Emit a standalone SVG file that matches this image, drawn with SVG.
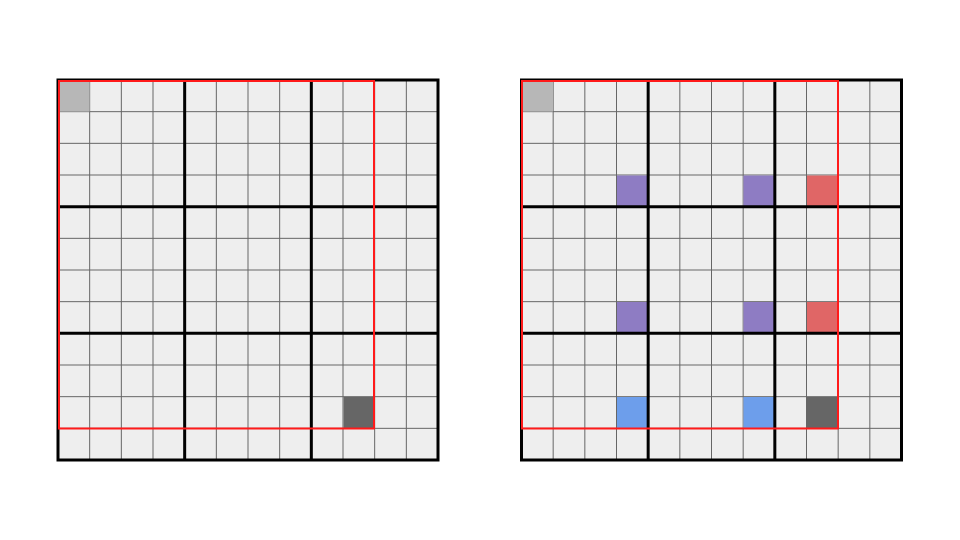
<svg xmlns="http://www.w3.org/2000/svg" width="960" height="540" viewBox="0 0 960 540">
<style>
.bg{fill:#eeeeee}
.thin{stroke:#666666;stroke-width:1;fill:none}
.thick{stroke:#000000;stroke-width:3;fill:none}
.sel{stroke:#ff1a1a;stroke-width:2;fill:none}
.lg{fill:#b7b7b7}
.dk{fill:#666666}
.pu{fill:#8e7cc3}
.rd{fill:#e06666}
.bl{fill:#6d9eeb}
</style>
<defs>
<g id="grid">
<rect class="bg" x="0" y="0" width="380" height="380"/>
<path class="thin" d="M31.67,0V380M63.33,0V380M95,0V380M126.67,0V380M158.33,0V380M190,0V380M221.67,0V380M253.33,0V380M285,0V380M316.67,0V380M348.33,0V380M0,31.67H380M0,63.33H380M0,95H380M0,126.67H380M0,158.33H380M0,190H380M0,221.67H380M0,253.33H380M0,285H380M0,316.67H380M0,348.33H380"/>
</g>
<path id="thickLines" class="thick" d="M126.67,0V380M253.33,0V380M0,126.67H380M0,253.33H380M0,0H380V380H0Z"/>
</defs>
<g id="left-board" transform="translate(58,80)">
<use href="#grid"/>
<rect class="lg" x="0.5" y="0.5" width="31" height="31"/>
<rect class="dk" x="285.5" y="317" width="31" height="31"/>
<use href="#thickLines"/>
<rect class="sel" x="1" y="1" width="315" height="347.5"/>
</g>
<g id="right-board" transform="translate(521.5,80)">
<use href="#grid"/>
<rect class="lg" x="0.5" y="0.5" width="31" height="31"/>
<rect class="pu" x="95.5" y="95.5" width="31" height="31"/>
<rect class="pu" x="222" y="95.5" width="31" height="31"/>
<rect class="rd" x="285.5" y="95.5" width="31" height="31"/>
<rect class="pu" x="95.5" y="222" width="31" height="31"/>
<rect class="pu" x="222" y="222" width="31" height="31"/>
<rect class="rd" x="285.5" y="222" width="31" height="31"/>
<rect class="bl" x="95.5" y="317" width="31" height="31"/>
<rect class="bl" x="222" y="317" width="31" height="31"/>
<rect class="dk" x="285.5" y="317" width="31" height="31"/>
<use href="#thickLines"/>
<rect class="sel" x="0.5" y="1" width="316" height="347.5"/>
</g>
</svg>
